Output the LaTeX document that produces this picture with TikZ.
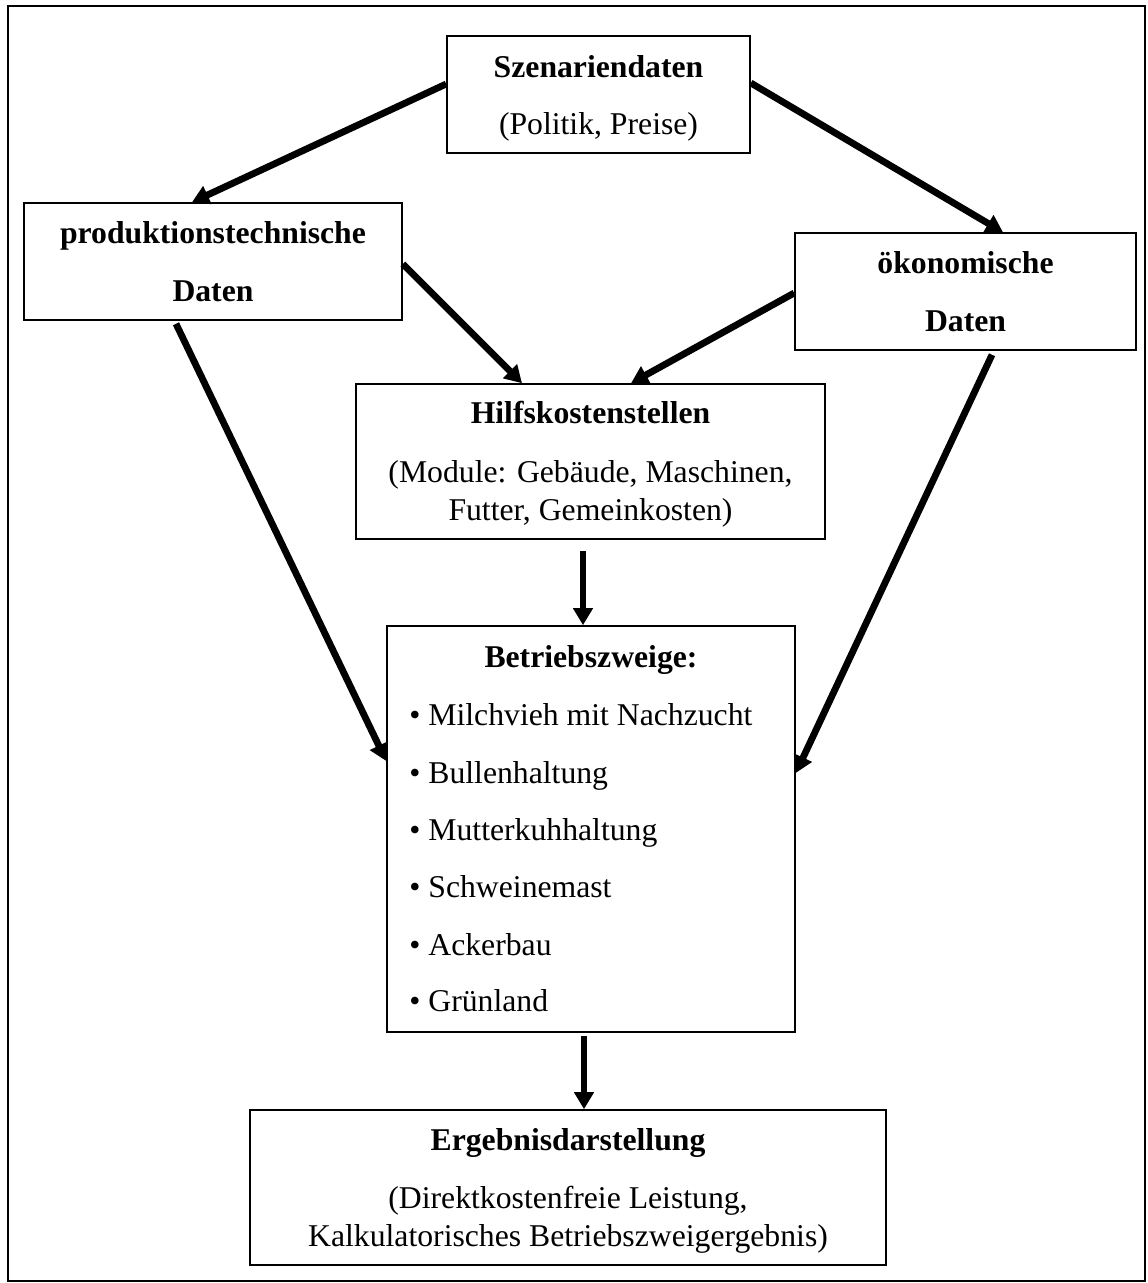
\documentclass[tikz,border=0pt]{standalone}
\usepackage{fontspec}
\setmainfont{Liberation Serif}
\usetikzlibrary{arrows.meta,calc}
\begin{document}
\begin{tikzpicture}[x=0.5pt,y=-0.5pt,
  box/.style={draw, line width=0.8pt, inner sep=0pt, rectangle},
  txt/.style={inner sep=0pt, anchor=base, font=\fontsize{15.85}{19}\selectfont},
  ttl/.style={txt, font=\fontsize{15.85}{19}\selectfont\bfseries},
  itm/.style={txt, anchor=base west},
  conn/.style={line width=3.4pt, -{Triangle[length=8.5pt,width=9.5pt]}},
]
\useasboundingbox (0,0) rectangle (1147,1283);
\draw[line width=0.75pt] (8,6) rectangle (1145,1281);

% Szenariendaten
\node[box, minimum width=151.5pt, minimum height=58.5pt] (szen) at (598.5,94.5) {};
\node[ttl] (szen1) at (598.5,78) {Szenariendaten};
\node[txt] (szen2) at (598.5,135) {(Politik, Preise)};

% produktionstechnische Daten
\node[box, minimum width=189pt, minimum height=58.5pt] (prod) at (213,261.5) {};
\node[ttl] (prod1) at (213,243.5) {produktionstechnische};
\node[ttl] (prod2) at (213,302) {Daten};

% oekonomische Daten
\node[box, minimum width=170.5pt, minimum height=58.5pt] (oek) at (965.5,291.5) {};
\node[ttl] (oek1) at (965.5,273.5) {ökonomische};
\node[ttl] (oek2) at (965.5,331) {Daten};

% Hilfskostenstellen
\node[box, minimum width=234.5pt, minimum height=77.5pt] (hilf) at (590.5,461.5) {};
\node[ttl] (hilf1) at (590.5,423) {Hilfskostenstellen};
\node[txt] (hilf2) at (590.5,482) {(Module: Gebäude, Maschinen,};
\node[txt] (hilf3) at (590.5,520) {Futter, Gemeinkosten)};

% Betriebszweige
\node[box, minimum width=204pt, minimum height=203pt] (betr) at (591,829) {};
\node[ttl] (betr0) at (591,667) {Betriebszweige:};
\node[itm] (betr1) at (409,725) {• Milchvieh mit Nachzucht};
\node[itm] (betr2) at (409,783) {• Bullenhaltung};
\node[itm] (betr3) at (409,840) {• Mutterkuhhaltung};
\node[itm] (betr4) at (409,897) {• Schweinemast};
\node[itm] (betr5) at (409,955) {• Ackerbau};
\node[itm] (betr6) at (409,1011) {• Grünland};

% Ergebnisdarstellung
\node[box, minimum width=318pt, minimum height=77.5pt] (erg) at (568,1187.5) {};
\node[ttl] (erg1) at (568,1150) {Ergebnisdarstellung};
\node[txt] (erg2) at (568,1208) {(Direktkostenfreie Leistung,};
\node[txt] (erg3) at (568,1246) {Kalkulatorisches Betriebszweigergebnis)};

% connectors
\draw[conn] ($(szen.west)+(0,-10.5)$) -- ($(prod.north)+(-21,0)$);
\draw[conn] ($(szen.east)+(0,-11.5)$) -- ($(oek.north)+(37.5,0)$);
\draw[conn] ($(prod.east)+(0,2.5)$) -- ($(hilf.north)+(-68.5,0)$);
\draw[conn] ($(oek.west)+(0,1.5)$) -- ($(hilf.north)+(40.5,0)$);
\draw[conn] ($(prod.south)+(-37,3)$) -- ($(betr.west)+(0,-68)$);
\draw[conn] ($(oek.south)+(26.5,4)$) -- ($(betr.east)+(0,-56)$);
\draw[conn] ($(hilf.south)+(-7.5,11)$) -- ($(betr.north)+(-8,0)$);
\draw[conn] ($(betr.south)+(-7,3)$) -- ($(erg.north)+(16,0)$);
\end{tikzpicture}
\end{document}
